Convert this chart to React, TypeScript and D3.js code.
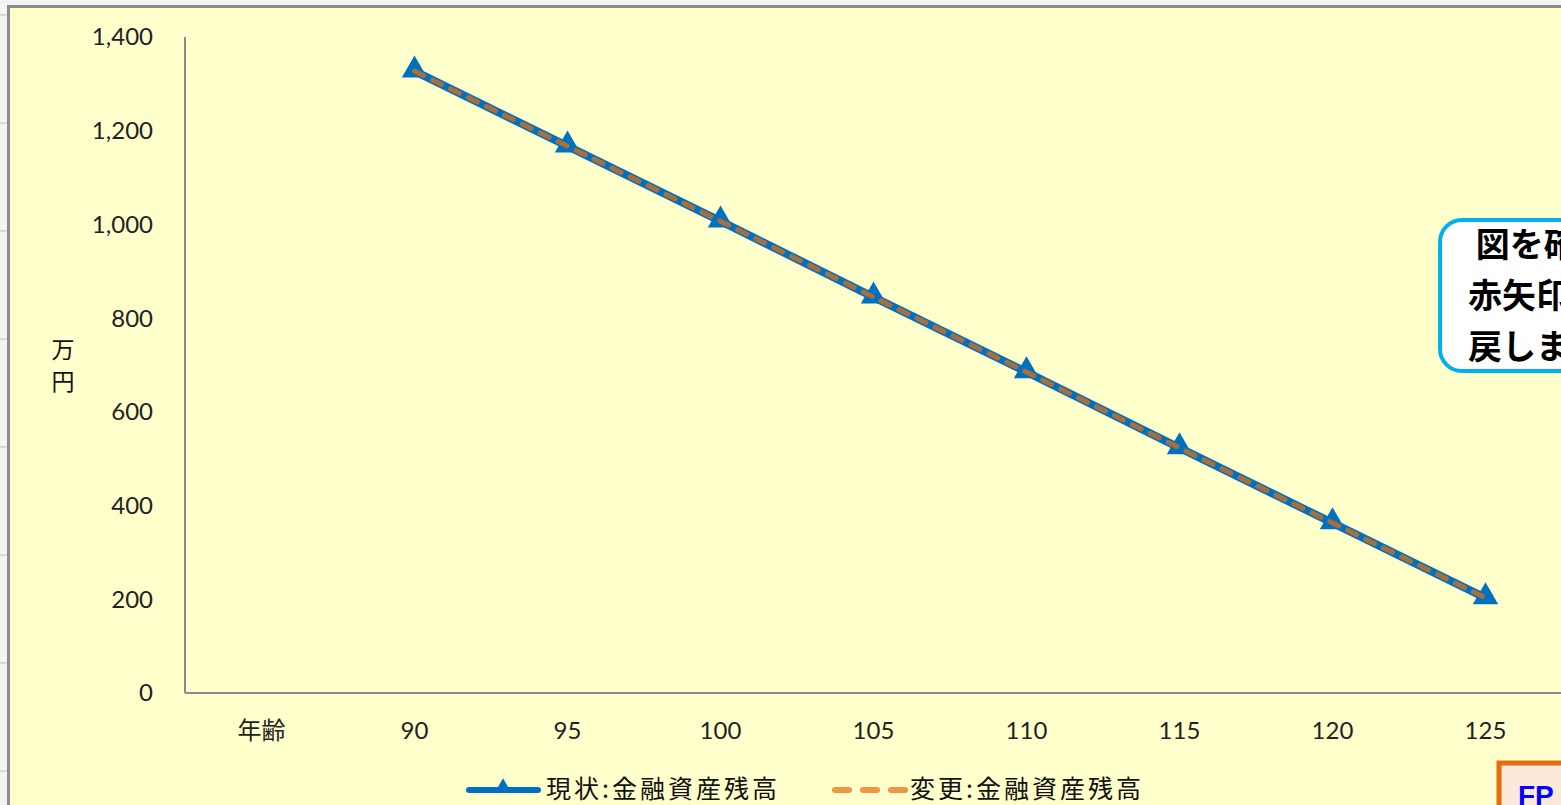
import React from "react";
import * as d3 from "d3";

const categories = ["年齢", "90", "95", "100", "105", "110", "115", "120", "125"];
const currentValues: (number | null)[] = [null, 1327, 1167, 1007, 845, 685, 523, 363, 203];
const changedValues: (number | null)[] = [null, 1327, 1167, 1007, 845, 685, 523, 363, 203];
const yTicks = [0, 200, 400, 600, 800, 1000, 1200, 1400];
const seriesNames = ["現状:金融資産残高", "変更:金融資産残高"];
const yAxisTitle = ["万", "円"];
const calloutLines = [" 図を確認したら", "赤矢印で元に", "戻します"];

const W = 1561;
const H = 805;
const BG = "#FFFFCC";
const BLUE = "#0070C0";
const BROWN = "#A86E3C";
const ORANGE = "#EE9646";
const NUM_FONT = "Lato, 'Open Sans', sans-serif";
const JP_FONT = "'Noto Sans CJK JP', sans-serif";

export default function App() {
  const x0 = 185;
  const band = 153;
  const x = d3
    .scaleBand<string>()
    .domain(categories)
    .range([x0, x0 + band * categories.length]);
  const y = d3.scaleLinear().domain([0, 1400]).range([693, 37]);
  const cx = (c: string) => (x(c) as number) + x.bandwidth() / 2;

  const line = d3
    .line<{ c: string; v: number | null }>()
    .defined((d) => d.v !== null)
    .x((d) => cx(d.c))
    .y((d) => y(d.v as number));

  const cur = categories.map((c, i) => ({ c, v: currentValues[i] }));
  const chg = categories.map((c, i) => ({ c, v: changedValues[i] }));

  const tri = d3.symbol().type(d3.symbolTriangle).size(280);

  const leftTicks = d3.range(0, H, 108);

  return (
    <svg
      width={W}
      height={H}
      style={{ position: "fixed", left: 0, top: 0, display: "block" }}
    >
      <rect x={0} y={0} width={W} height={H} fill="#F4F4F4" />
      {leftTicks.map((t) => (
        <line key={t} x1={0} x2={7} y1={t + 15} y2={t + 15} stroke="#BDBDBD" strokeWidth={1} />
      ))}
      <rect x={7} y={5} width={W} height={H} fill="#8C8C8C" />
      <rect x={10} y={8} width={W} height={H} fill={BG} />

      {/* axes */}
      <line x1={x0} x2={x0} y1={37} y2={693} stroke="#8A8A8A" strokeWidth={2} />
      <line x1={x0} x2={W} y1={693} y2={693} stroke="#8A8A8A" strokeWidth={2} />

      {yTicks.map((t) => (
        <text
          key={t}
          x={153}
          y={y(t)}
          dy="0.35em"
          textAnchor="end"
          fontFamily={NUM_FONT}
          fontSize={24}
          fill="#222"
        >
          {d3.format(",")(t)}
        </text>
      ))}

      {categories.map((c, i) => (
        <text
          key={c}
          x={cx(c)}
          y={731}
          dy="0.35em"
          textAnchor="middle"
          fontFamily={i === 0 ? JP_FONT : NUM_FONT}
          fontSize={24}
          fill="#222"
        >
          {c}
        </text>
      ))}

      {yAxisTitle.map((t, i) => (
        <text
          key={t}
          x={63}
          y={350 + i * 32}
          dy="0.35em"
          textAnchor="middle"
          fontFamily={JP_FONT}
          fontSize={23}
          fill="#111"
        >
          {t}
        </text>
      ))}

      {/* series 1 */}
      <path d={line(cur) || ""} fill="none" stroke={BLUE} strokeWidth={8} />
      {cur
        .filter((d) => d.v !== null)
        .map((d) => (
          <path
            key={d.c}
            d={tri() || ""}
            transform={`translate(${cx(d.c)},${y(d.v as number) - 1})`}
            fill={BLUE}
          />
        ))}
      {/* series 2 */}
      <path
        d={line(chg) || ""}
        fill="none"
        stroke={BROWN}
        strokeWidth={5}
        strokeDasharray="10 10"
        strokeLinecap="round"
      />

      {/* legend */}
      <line x1={469} x2={538} y1={790} y2={790} stroke={BLUE} strokeWidth={6} strokeLinecap="round" />
      <path d={d3.symbol().type(d3.symbolTriangle).size(100)() || ""} transform="translate(503,787)" fill={BLUE} />
      <text x={546} y={789} dy="0.35em" fontFamily={JP_FONT} fontSize={25} letterSpacing={3} fill="#111">
        {seriesNames[0]}
      </text>
      <line
        x1={835}
        x2={905}
        y1={790}
        y2={790}
        stroke={ORANGE}
        strokeWidth={6}
        strokeLinecap="round"
        strokeDasharray="14 14"
      />
      <text x={910} y={789} dy="0.35em" fontFamily={JP_FONT} fontSize={25} letterSpacing={3} fill="#111">
        {seriesNames[1]}
      </text>

      {/* callout */}
      <rect
        x={1440}
        y={220}
        width={220}
        height={151}
        rx={22}
        fill="#FFFFFF"
        stroke="#00B0F0"
        strokeWidth={4}
      />
      {calloutLines.map((t, i) => (
        <text
          key={i}
          x={1468}
          y={245 + i * 51}
          dy="0.35em"
          fontFamily={JP_FONT}
          fontWeight={700}
          fontSize={34}
          fill="#000"
          style={{ whiteSpace: "pre" }}
        >
          {t}
        </text>
      ))}

      {/* FP box */}
      <rect x={1499} y={763} width={120} height={60} fill="#FDE9D9" stroke="#E46C0A" strokeWidth={5} />
      <text x={1518} y={795} dy="0.35em" fontFamily="'Liberation Sans', Arial, sans-serif" fontWeight={700} fontSize={28} fill="#0000FF">
        FP
      </text>
    </svg>
  );
}
